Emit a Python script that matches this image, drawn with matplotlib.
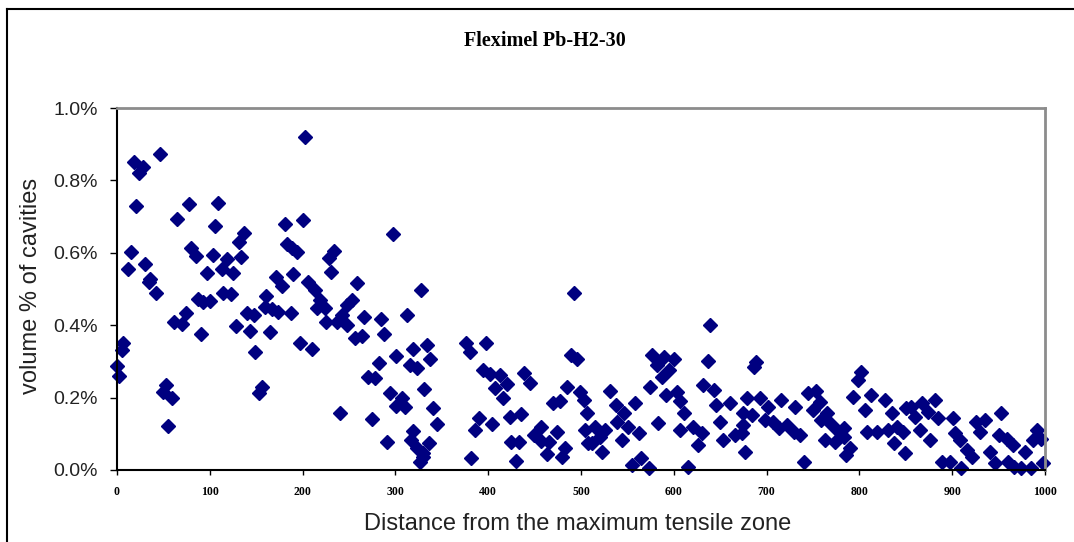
import matplotlib
matplotlib.use('Agg')
from matplotlib import pyplot as plt
from matplotlib.lines import Line2D
from matplotlib.ticker import FuncFormatter

# distance from the max tensile zone, and volume % of cavities (in %)
dist = [46, 18, 28, 24, 21, 78, 109, 65, 106, 137, 131, 15, 80, 85, 103, 134, 118, 12, 30, 113,
        125, 97, 36, 34, 42, 114, 123, 87, 100, 93, 161, 160, 140, 148, 74, 61, 70, 128, 143, 90,
        165, 149, 7, 5, 0, 2, 53, 50, 59, 156, 153, 55,
        203, 181, 200, 297, 183, 189, 194, 234, 228, 231, 190, 171, 178, 206, 213, 259, 328, 219, 253, 248,
        167, 174, 187, 215, 224, 242, 266, 284, 312, 225, 237, 248, 257, 264, 288, 197, 210, 319,
        334, 301, 282, 316, 323, 270, 278, 294, 307, 310, 301, 331, 240, 275, 319, 317, 291, 323,
        330, 326, 336,
        492, 337, 341, 345, 330, 376, 380, 398, 394, 402, 413, 420, 407, 416, 439, 445, 390, 386,
        404, 423, 435, 382, 425, 433, 430, 449, 457, 457, 466, 463, 474, 483, 479, 470, 477, 485,
        489, 496, 499, 503, 506, 504, 508,
        639, 576, 589, 600, 582, 595, 587, 637, 574, 632, 643, 531, 538, 558, 592, 603, 607, 546,
        539, 611, 583, 646, 661, 650, 679, 515, 526, 521, 551, 562, 544, 512, 523, 607, 621, 630,
        626, 653, 666, 675, 677, 555, 565, 573, 615,
        689, 686, 802, 799, 693, 715, 702, 731, 745, 753, 758, 750, 765, 759, 793, 813, 828, 806,
        835, 850, 675, 684, 698, 707, 713, 722, 729, 736, 673, 768, 776, 783, 763, 774, 783, 790,
        786, 740, 808, 819, 831, 840, 847, 837, 849,
        856, 867, 881, 874, 860, 885, 901, 953, 865, 903, 926, 935, 930, 876, 908, 950, 959, 965,
        991, 987, 996, 916, 921, 941, 978, 889, 898, 910, 946, 960, 967, 974, 985, 998]
vol = [0.872, 0.852, 0.838, 0.821, 0.729, 0.734, 0.738, 0.694, 0.675, 0.656, 0.631, 0.603, 0.612, 0.591, 0.595, 0.588, 0.582, 0.555, 0.569, 0.554,
       0.543, 0.545, 0.529, 0.520, 0.488, 0.490, 0.486, 0.472, 0.467, 0.465, 0.481, 0.451, 0.433, 0.428, 0.435, 0.410, 0.403, 0.398, 0.385, 0.375,
       0.382, 0.325, 0.352, 0.331, 0.287, 0.261, 0.235, 0.216, 0.198, 0.230, 0.214, 0.122,
       0.919, 0.680, 0.691, 0.651, 0.624, 0.612, 0.601, 0.605, 0.585, 0.548, 0.541, 0.534, 0.509, 0.520, 0.497, 0.517, 0.497, 0.470, 0.470, 0.456,
       0.444, 0.437, 0.433, 0.447, 0.447, 0.428, 0.424, 0.416, 0.428, 0.408, 0.410, 0.401, 0.364, 0.370, 0.377, 0.350, 0.333, 0.333,
       0.345, 0.315, 0.296, 0.290, 0.281, 0.256, 0.253, 0.214, 0.198, 0.175, 0.177, 0.223, 0.158, 0.141, 0.109, 0.083, 0.078, 0.060,
       0.046, 0.023, 0.075,
       0.488, 0.308, 0.170, 0.127, 0.037, 0.352, 0.327, 0.352, 0.276, 0.265, 0.262, 0.238, 0.226, 0.198, 0.269, 0.239, 0.143, 0.110,
       0.127, 0.146, 0.155, 0.032, 0.078, 0.078, 0.026, 0.097, 0.118, 0.081, 0.078, 0.044, 0.106, 0.060, 0.037, 0.184, 0.191, 0.228,
       0.318, 0.306, 0.216, 0.193, 0.157, 0.110, 0.074,
       0.400, 0.318, 0.311, 0.308, 0.290, 0.276, 0.258, 0.302, 0.230, 0.235, 0.221, 0.219, 0.180, 0.184, 0.207, 0.216, 0.191, 0.157,
       0.133, 0.157, 0.129, 0.180, 0.184, 0.133, 0.198, 0.120, 0.110, 0.092, 0.120, 0.101, 0.083, 0.074, 0.051, 0.110, 0.120, 0.101,
       0.069, 0.083, 0.097, 0.124, 0.051, 0.014, 0.032, 0.005, 0.007,
       0.299, 0.285, 0.272, 0.249, 0.198, 0.193, 0.175, 0.175, 0.212, 0.219, 0.189, 0.166, 0.157, 0.138, 0.203, 0.207, 0.193, 0.166,
       0.157, 0.170, 0.158, 0.152, 0.138, 0.133, 0.115, 0.124, 0.106, 0.097, 0.101, 0.129, 0.110, 0.115, 0.083, 0.078, 0.092, 0.060,
       0.041, 0.023, 0.106, 0.106, 0.110, 0.120, 0.106, 0.074, 0.046,
       0.175, 0.184, 0.193, 0.161, 0.147, 0.143, 0.143, 0.157, 0.110, 0.101, 0.133, 0.138, 0.106, 0.083, 0.083, 0.097, 0.087, 0.069,
       0.110, 0.083, 0.087, 0.055, 0.037, 0.051, 0.051, 0.023, 0.023, 0.005, 0.018, 0.023, 0.009, 0.005, 0.005, 0.020]

fig = plt.figure(figsize=(10.74, 5.42), dpi=100)
ax = fig.add_axes([117 / 1074, 1 - 470 / 542, 928 / 1074, 362 / 542])

ax.plot(dist, vol, linestyle='none', marker='D', markersize=7.2, color='#000080', clip_on=False)

ax.set_xlim(0, 1000)
ax.set_ylim(0, 1.0)
ax.set_xticks(range(0, 1001, 100))
ax.set_yticks([0, 0.2, 0.4, 0.6, 0.8, 1.0])
ax.yaxis.set_major_formatter(FuncFormatter(lambda v, p: '{:.1f}%'.format(v)))

for lab in ax.get_xticklabels():
    lab.set_family('Liberation Serif')
    lab.set_fontweight('bold')
    lab.set_fontsize(8.5)
for lab in ax.get_yticklabels():
    lab.set_family('Liberation Sans')
    lab.set_fontsize(14)
    lab.set_color('#222222')
ax.tick_params(axis='y', length=5, width=1, pad=9, color='black')
ax.tick_params(axis='x', length=3.5, width=1, pad=8, color='black')

ax.spines['left'].set_color('black')
ax.spines['bottom'].set_color('black')
ax.spines['left'].set_linewidth(1.5)
ax.spines['bottom'].set_linewidth(1.5)
ax.spines['top'].set_color('#8c8c8c')
ax.spines['right'].set_color('#8c8c8c')
ax.spines['top'].set_linewidth(2)
ax.spines['right'].set_linewidth(2)

fig.text(578 / 1074, 1 - 524 / 542, 'Distance from the maximum tensile zone', ha='center', va='center',
         family='Liberation Sans', fontsize=17, color='#222222')
fig.text(31 / 1074, 1 - 286 / 542, 'volume % of cavities', ha='center', va='center', rotation=90,
         family='Liberation Sans', fontsize=17, color='#222222')

fig.text(544.5 / 1074, 1 - 41 / 542, 'Fleximel Pb-H2-30', ha='center', va='center',
         family='Liberation Serif', fontweight='bold', fontsize=14.5)

# outer chart frame (left and top only)
fig.add_artist(Line2D([7.5 / 1074, 7.5 / 1074], [0, 1 - 8.5 / 542], color='black', lw=1.5))
fig.add_artist(Line2D([7.5 / 1074, 1], [1 - 8.5 / 542, 1 - 8.5 / 542], color='black', lw=1.5))

fig.savefig('out.png', dpi=100)
